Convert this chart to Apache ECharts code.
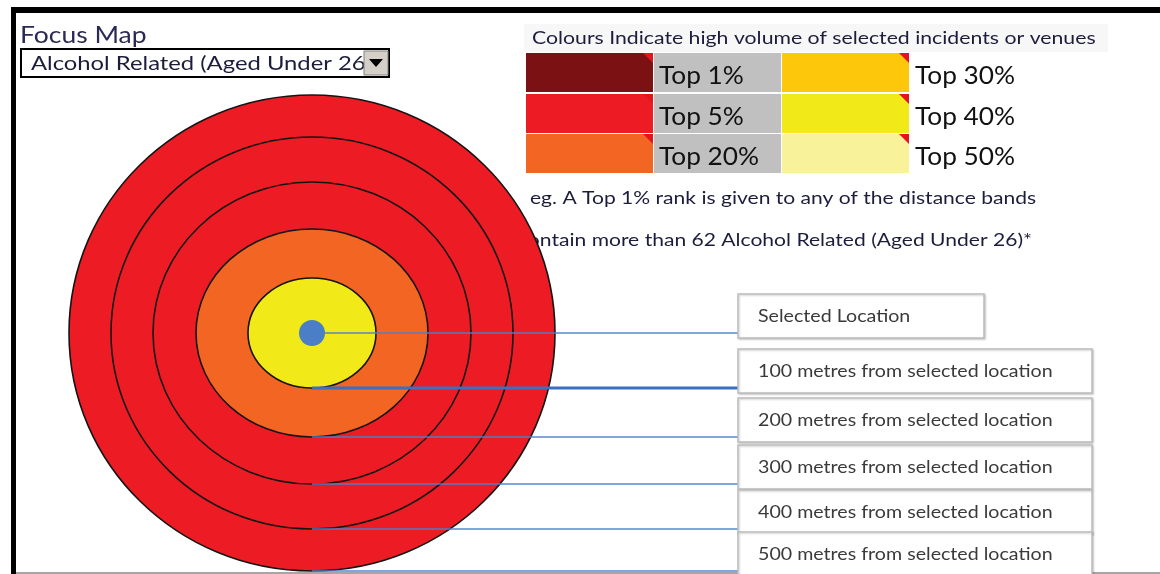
<!DOCTYPE html>
<html>
<head>
<meta charset="utf-8">
<script src="https://cdn.jsdelivr.net/npm/echarts@6/dist/echarts.min.js"></script>
<style>
  html, body { margin: 0; padding: 0; background: #fff; }
  #focus-map { width: 1160px; height: 574px; }
</style>
</head>
<body>
<div id="focus-map"></div>
<script>
// Datos del "focus map": anillos de distancia y su rango
const calloutLabels = [
    'Selected Location',
    '100 metres from selected location',
    '200 metres from selected location',
    '300 metres from selected location',
    '400 metres from selected location',
    '500 metres from selected location'
];
const ringHalfWidth = [64, 116, 159, 201, 243];
const ringHalfHeight = [55, 104, 151, 196, 238];
const ringBand = ['Top 40%', 'Top 20%', 'Top 5%', 'Top 5%', 'Top 5%'];

// Leyenda de colores
const bandNames = ['Top 1%', 'Top 5%', 'Top 20%', 'Top 30%', 'Top 40%', 'Top 50%'];
const bandColours = ['#7b1113', '#ed1c24', '#f26522', '#fdc70c', '#f2e918', '#f8f29a'];

const selectedMeasure = 'Alcohol Related (Aged Under 26)';
const topOneThreshold = 62;

// Layout (pixels)
const W = 1160, H = 574;
const centrePx = [312, 333];
const calloutLeft = 738;
const FONT = 'Lato, "Open Sans", sans-serif';
const INK = '#1c1c3c';

const chart = echarts.init(document.getElementById('focus-map'), null, { renderer: 'canvas' });

// Leyenda construida con graphic
const legendEls = [];
const rowTop = [53, 94, 134];
bandNames.forEach((name, i) => {
    const col = Math.floor(i / 3), row = i % 3;
    const boxX = col === 0 ? 526 : 782;
    const y = rowTop[row];
    legendEls.push({
        type: 'rect', shape: { x: boxX, y: y, width: 127, height: 39 },
        style: { fill: bandColours[i] }
    });
    legendEls.push({
        type: 'polygon', shape: { points: [[boxX + 117, y], [boxX + 127, y], [boxX + 127, y + 10]] },
        style: { fill: '#e3141c' }
    });
    if (col === 0) {
        legendEls.push({
            type: 'rect', shape: { x: 654, y: y, width: 127, height: 39 },
            style: { fill: '#c0c0c0' }
        });
    }
    legendEls.push({
        type: 'text', x: col === 0 ? 659 : 915, y: y + 23, scaleX: 1.05,
        style: { text: name, font: '25px ' + FONT, fill: '#111', verticalAlign: 'middle' }
    });
});

const option = {
    backgroundColor: '#fff',
    animation: false,
    grid: { left: 0, right: 0, top: 0, bottom: 0 },
    xAxis: { type: 'value', min: -centrePx[0], max: W - centrePx[0], show: false },
    yAxis: { type: 'value', min: -(H - centrePx[1]), max: centrePx[1], show: false },
    graphic: [
        // marco de la hoja
        { type: 'rect', z: 10, shape: { x: 11, y: 7, width: W - 11, height: 6 }, style: { fill: '#000' } },
        { type: 'rect', z: 10, shape: { x: 11, y: 7, width: 5, height: H - 7 }, style: { fill: '#000' } },
        { type: 'rect', z: 0, shape: { x: 16, y: 572, width: W - 16, height: 2 }, style: { fill: '#a6a6a6' } },
        { type: 'rect', z: 0, shape: { x: 524, y: 24, width: 584, height: 28 }, style: { fill: '#f7f7f7' } },
        // titulo y desplegable
        { type: 'text', x: 20, y: 36, scaleX: 1.15, style: { text: 'Focus Map', font: '23px ' + FONT, fill: '#2a2a55', verticalAlign: 'middle' } },
        { type: 'rect', shape: { x: 21, y: 49, width: 368, height: 28 }, style: { fill: '#fff', stroke: '#000', lineWidth: 2 } },
        { type: 'text', x: 31, y: 64, scaleX: 1.19, style: { text: selectedMeasure, font: '20px ' + FONT, fill: INK, verticalAlign: 'middle' } },
        { type: 'rect', z: 2, shape: { x: 364, y: 51, width: 24, height: 24 }, style: { fill: '#d4d0c8', stroke: '#808080', lineWidth: 1 } },
        { type: 'polygon', z: 2, shape: { points: [[369, 59], [383, 59], [376, 67]] }, style: { fill: '#000' } },
        // texto de la leyenda
        { type: 'text', x: 532, y: 38, scaleX: 1.18, style: { text: 'Colours Indicate high volume of selected incidents or venues', font: '18px ' + FONT, fill: INK, verticalAlign: 'middle' } },
        { type: 'group', children: legendEls },
        { type: 'text', x: 530, y: 198, scaleX: 1.17, style: { text: 'eg. A Top 1% rank is given to any of the distance bands', font: '18px ' + FONT, fill: INK, verticalAlign: 'middle' } },
        { type: 'text', x: 518, y: 240, z: 0, scaleX: 1.17, style: { text: 'contain more than ' + topOneThreshold + ' ' + selectedMeasure + '*', font: '18px ' + FONT, fill: INK, verticalAlign: 'middle' } }
    ],
    series: [
        {
            // anillos de distancia, de fuera hacia dentro
            type: 'custom',
            z: 3,
            data: ringHalfWidth.map((rx, i) => [rx, ringHalfHeight[i], i]).reverse(),
            renderItem: function (params, api) {
                const c = api.coord([0, 0]);
                const e = api.coord([api.value(0), api.value(1)]);
                const i = api.value(2);
                return {
                    type: 'ellipse',
                    shape: { cx: c[0], cy: c[1], rx: e[0] - c[0], ry: c[1] - e[1] },
                    style: { fill: bandColours[bandNames.indexOf(ringBand[i])], stroke: '#141414', lineWidth: 1.6 }
                };
            }
        },
        {
            // lineas guia y cajas de texto
            type: 'custom',
            z: 4,
            data: [0].concat(ringHalfHeight.map(h => -h)).map((y, i) => [0, y, i]),
            renderItem: function (params, api) {
                const i = api.value(2);
                const p = api.coord([0, api.value(1)]);
                const boxW = i === 0 ? 246 : 354;
                const boxTop = p[1] - 39;
                return {
                    type: 'group',
                    children: [
                        {
                            type: 'line',
                            shape: { x1: p[0], y1: p[1], x2: calloutLeft, y2: p[1] },
                            style: { stroke: i === 1 ? '#3b6fc2' : '#4a80d0', lineWidth: i === 1 ? 3 : 2, opacity: i === 1 ? 1 : 0.7 }
                        },
                        {
                            type: 'rect',
                            shape: { x: calloutLeft, y: boxTop, width: boxW, height: 44 },
                            style: { fill: '#fff', stroke: '#bdbdbd', lineWidth: 1.5, shadowBlur: 2, shadowColor: 'rgba(0,0,0,0.2)', shadowOffsetX: 1, shadowOffsetY: 1 }
                        },
                        {
                            type: 'text', x: calloutLeft + 20, y: boxTop + 22, scaleX: 1.09,
                            style: { text: calloutLabels[i], font: '18px ' + FONT, fill: '#3a3a3a', verticalAlign: 'middle' }
                        }
                    ]
                };
            }
        },
        {
            // punto seleccionado
            type: 'scatter',
            z: 5,
            data: [[0, 0]],
            symbolSize: 26,
            itemStyle: { color: '#4a7ec6', opacity: 1 }
        }
    ]
};

chart.setOption(option);
</script>
</body>
</html>
